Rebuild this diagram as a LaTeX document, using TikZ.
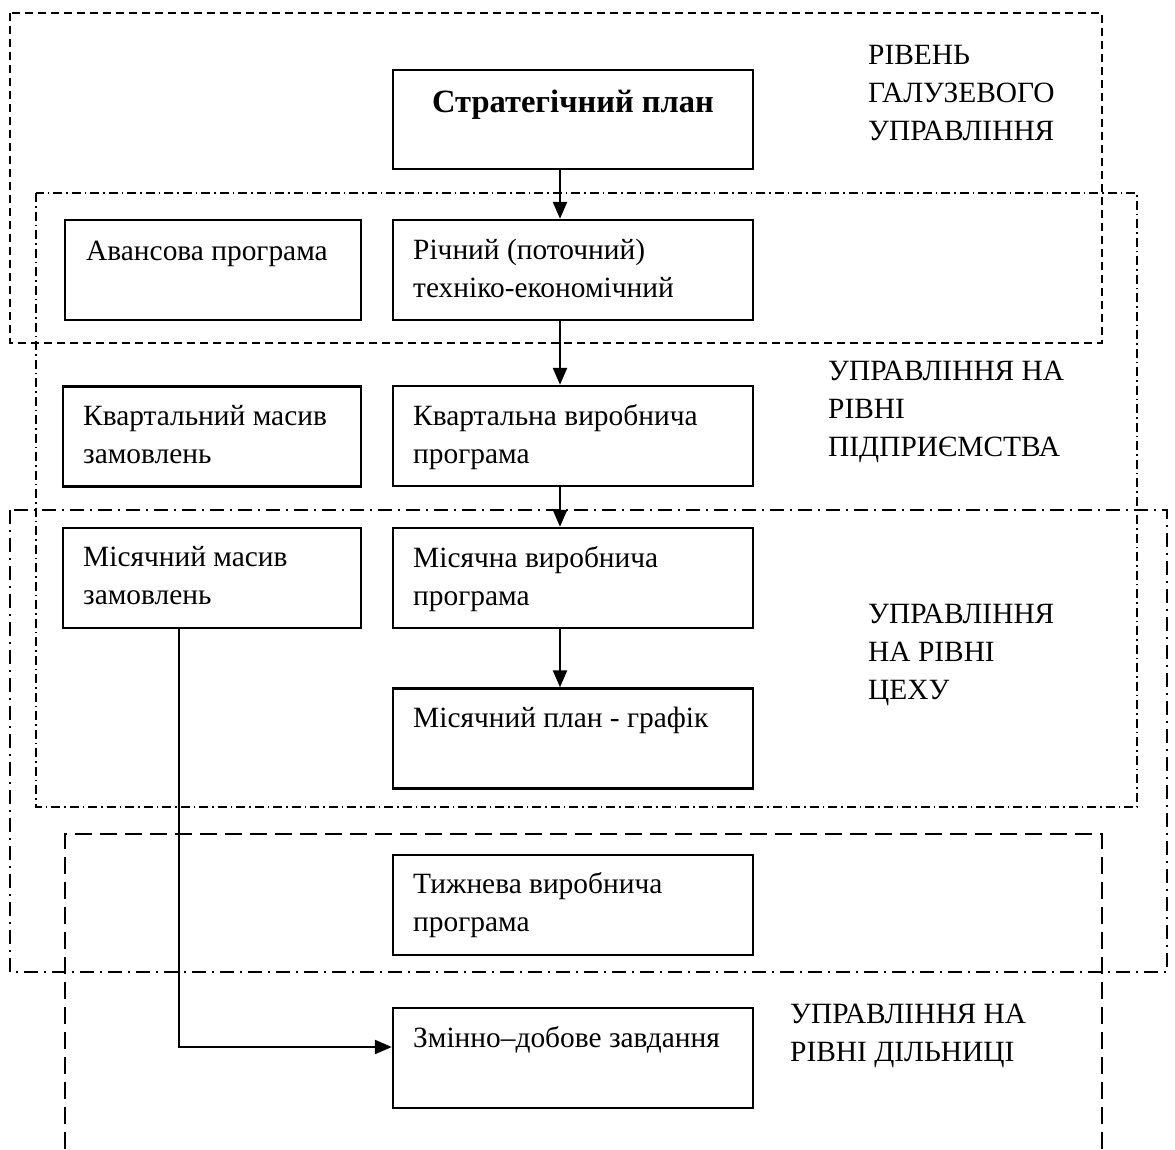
\documentclass[tikz,border=0pt]{standalone}
\usepackage{fontspec}
\setmainfont{Liberation Serif}
\usetikzlibrary{arrows.meta}
\newcommand{\stacktext}[1]{\begin{tabular}[t]{@{}l@{}}#1\end{tabular}}
\begin{document}
\begin{tikzpicture}[x=1pt,y=-1pt,
  box/.style={draw,line width=2.4pt,rectangle,inner sep=0pt,minimum width=#1},
  box/.default=360pt,
  lbl/.style={anchor=base west,inner sep=0pt,font=\fontsize{29.4}{38}\selectfont},
  arr/.style={line width=2.4pt,-{Triangle[length=17pt,width=14pt]}},
  frameA/.style={line width=1.7pt,dash pattern=on 8pt off 5pt},
  frameB/.style={line width=1.5pt,dash pattern=on 9pt off 4pt on 1.5pt off 4pt},
  frameC/.style={line width=1.7pt,dash pattern=on 14pt off 6pt on 2pt off 6pt},
  frameD/.style={line width=1.8pt,dash pattern=on 17pt off 8pt}]
\useasboundingbox[fill=white] (0,0) rectangle (1175,1149);

% management level frames
\draw[frameA] (10,13) rectangle (1102,343);
\draw[frameB] (36,193) rectangle (1137,807);
\draw[frameC] (10,510) rectangle (1167,972);
\draw[frameD] (65,1149) -- (65,834) -- (1102,834) -- (1102,1149);

% plan boxes
\node[box,minimum height=99pt]  (strat) at (573,119.5) {};
\node[box=296pt,minimum height=100pt] (avans) at (213,270) {};
\node[box,minimum height=100pt] (rich)  at (573,270) {};
\node[box=298pt,minimum height=100pt] (kvmas) at (212,436.5) {};
\node[box,minimum height=100pt] (kvprog) at (573,436) {};
\node[box=298pt,minimum height=100pt] (mmas) at (212,578) {};
\node[box,minimum height=100pt] (mprog) at (573,578) {};
\node[box,minimum height=100pt] (mplan) at (573,738.5) {};
\node[box,minimum height=100pt] (tyzh)  at (573,905) {};
\node[box,minimum height=100pt] (zmin)  at (573,1058) {};

% box texts
\node[lbl,anchor=base,font=\fontsize{32.5}{38}\selectfont\bfseries] (tstrat) at (573,112) {Стратегічний план};
\node[lbl] (tavans) at (86,260) {Авансова програма};
\node[lbl] (trich) at (413,259) {\stacktext{Річний (поточний)\\техніко-економічний}};
\node[lbl] (tkvmas) at (83,425) {\stacktext{Квартальний масив\\замовлень}};
\node[lbl] (tkvprog) at (413,425) {\stacktext{Квартальна виробнича\\програма}};
\node[lbl] (tmmas) at (83,566) {\stacktext{Місячний масив\\замовлень}};
\node[lbl] (tmprog) at (413,567) {\stacktext{Місячна виробнича\\програма}};
\node[lbl] (tmplan) at (413,727) {Місячний план - графік};
\node[lbl] (ttyzh) at (413,893) {\stacktext{Тижнева виробнича\\програма}};
\node[lbl] (tzmin) at (413,1047) {Змінно–добове завдання};

% level captions
\node[lbl] (lev1) at (868,64) {\stacktext{РІВЕНЬ\\ГАЛУЗЕВОГО\\УПРАВЛІННЯ}};
\node[lbl] (lev2) at (828,380) {\stacktext{УПРАВЛІННЯ НА\\РІВНІ\\ПІДПРИЄМСТВА}};
\node[lbl] (lev3) at (868,623) {\stacktext{УПРАВЛІННЯ\\НА РІВНІ\\ЦЕХУ}};
\node[lbl] (lev4) at (790,1023) {\stacktext{УПРАВЛІННЯ НА\\РІВНІ ДІЛЬНИЦІ}};

% connectors
\draw[arr] ([xshift=-13pt]strat.south) -- ([xshift=-13pt]rich.north);
\draw[arr] ([xshift=-13pt]rich.south) -- ([xshift=-13pt]kvprog.north);
\draw[arr] ([xshift=-13pt]kvprog.south) -- ([xshift=-13pt]mprog.north);
\draw[arr] ([xshift=-13pt]mprog.south) -- ([xshift=-13pt]mplan.north);
\draw[arr] ([xshift=-33pt]mmas.south) |- ([yshift=11pt]zmin.west);
\end{tikzpicture}
\end{document}
